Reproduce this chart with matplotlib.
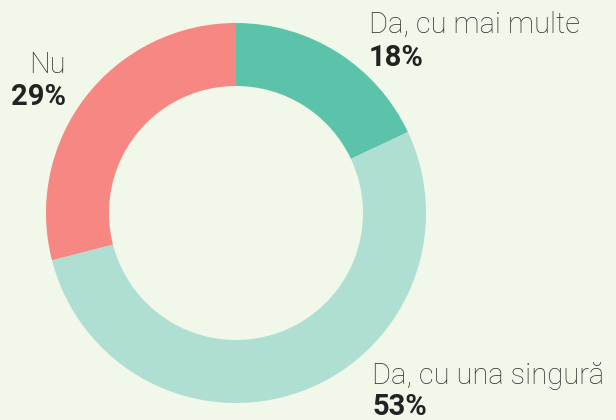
import matplotlib.pyplot as plt

labels = ['Da, cu mai multe', 'Da, cu una singură', 'Nu']
values = [18, 53, 29]
colors = ['#5bc3aa', '#afdfd3', '#f78782']

bg = '#f1f7e9'
plt.rcParams['font.family'] = ['Roboto', 'DejaVu Sans']

fig = plt.figure(figsize=(6.16, 4.2), dpi=100, facecolor=bg)
ax = fig.add_axes([0, 0, 1, 1])
ax.set_facecolor(bg)

# donut, clockwise from the top
ax.pie(values, colors=colors, center=(236, 207), radius=190, startangle=90,
       counterclock=False, wedgeprops=dict(width=63, linewidth=0))
ax.set_xlim(0, 616)
ax.set_ylim(0, 420)
ax.set_aspect('equal')
ax.axis('off')

# labels
fs = 21
ax.text(369, 387, labels[0], fontsize=fs, fontweight='light', color='#333333', va='baseline', ha='left')
ax.text(369, 354, f'{values[0]}%', fontsize=fs, fontweight='bold', color='#222222', va='baseline', ha='left')
ax.text(372, 36, labels[1], fontsize=fs, fontweight='light', color='#333333', va='baseline', ha='left')
ax.text(372, 5, f'{values[1]}%', fontsize=fs, fontweight='bold', color='#222222', va='baseline', ha='left')
ax.text(66, 347, labels[2], fontsize=fs, fontweight='light', color='#333333', va='baseline', ha='right')
ax.text(66, 315, f'{values[2]}%', fontsize=fs, fontweight='bold', color='#222222', va='baseline', ha='right')

plt.savefig('out.png', dpi=100, facecolor=bg)
